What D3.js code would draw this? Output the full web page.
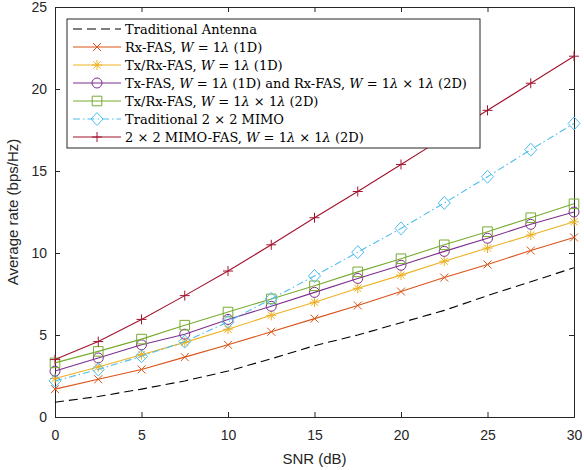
<!DOCTYPE html>
<html>
<head>
<meta charset="utf-8">
<script src="https://cdn.jsdelivr.net/npm/d3@7"></script>
<style>
  body { margin: 0; background: #fff; }
  svg { display: block; }
</style>
</head>
<body>
<svg id="chart" width="584" height="470"></svg>
<script>
// chart data
var snr = [0, 2.5, 5, 7.5, 10, 12.5, 15, 17.5, 20, 22.5, 25, 27.5, 30];

var tradAntenna = [0.9, 1.25, 1.7, 2.2, 2.8, 3.55, 4.35, 5.0, 5.75, 6.5, 7.4, 8.25, 9.1];
var rxFas1D = [1.7, 2.3, 2.9, 3.65, 4.4, 5.2, 6.0, 6.8, 7.65, 8.5, 9.3, 10.15, 10.95];
var txRxFas1D = [2.35, 3.05, 3.8, 4.55, 5.35, 6.2, 7.0, 7.85, 8.65, 9.5, 10.3, 11.1, 11.9];
var txFasRxFas2D = [2.8, 3.6, 4.4, 5.05, 5.95, 6.75, 7.6, 8.45, 9.25, 10.1, 10.9, 11.75, 12.5];
var txRxFas2D = [3.3, 4.0, 4.75, 5.6, 6.4, 7.2, 8.0, 8.85, 9.65, 10.5, 11.3, 12.15, 13.0];
var tradMimo = [2.2, 2.9, 3.7, 4.6, 5.8, 7.2, 8.6, 10.05, 11.5, 13.05, 14.65, 16.3, 17.9];
var mimoFas2D = [3.5, 4.6, 5.95, 7.4, 8.9, 10.5, 12.15, 13.75, 15.4, 17.05, 18.7, 20.35, 22.0];

// legend labels, *...* is set in italics (math)
var legendLabels = [
  "Traditional Antenna",
  "Rx-FAS, *W* = 1*λ* (1D)",
  "Tx/Rx-FAS, *W* = 1*λ* (1D)",
  "Tx-FAS, *W* = 1*λ* (1D) and Rx-FAS, *W* = 1*λ* × 1*λ* (2D)",
  "Tx/Rx-FAS, *W* = 1*λ* × 1*λ* (2D)",
  "Traditional 2 × 2 MIMO",
  "2 × 2 MIMO-FAS, *W* = 1*λ* × 1*λ* (2D)"
];

var xTicks = [0, 5, 10, 15, 20, 25, 30];
var yTicks = [0, 5, 10, 15, 20, 25];

window.onload = function() {

  var margin = {top: 7, right: 10, bottom: 53, left: 55},
    width = 584 - margin.left - margin.right,
    height = 470 - margin.top - margin.bottom;

  var x = d3.scaleLinear().domain([0, 30]).range([0, width]);
  var y = d3.scaleLinear().domain([0, 25]).range([height, 0]);

  var svg = d3.select("#chart")
    .append("g")
    .attr("transform", "translate(" + margin.left + "," + margin.top + ")");

  var axisColor = "#262626";
  var sansFont = "'Liberation Sans', Arial, Helvetica, sans-serif";
  var serifFont = "'DejaVu Serif', 'Liberation Serif', serif";

  // series styles (MATLAB default colour order)
  var series = [
    {values: tradAntenna, color: "#000000", dash: "9,5", marker: null},
    {values: rxFas1D, color: "#D95319", dash: null, marker: "cross"},
    {values: txRxFas1D, color: "#EDB120", dash: null, marker: "star"},
    {values: txFasRxFas2D, color: "#7E2F8E", dash: null, marker: "circle"},
    {values: txRxFas2D, color: "#77AC30", dash: null, marker: "square"},
    {values: tradMimo, color: "#4DBEEE", dash: "7,3,1.5,3", marker: "diamond"},
    {values: mimoFas2D, color: "#A2142F", dash: null, marker: "plus"}
  ];

  // marker shapes as path strings centred on 0,0
  function markerPath(type) {
    switch (type) {
      case "cross": return "M-4,-4L4,4M-4,4L4,-4";
      case "plus": return "M-5,0L5,0M0,-5L0,5";
      case "star": return "M-5,0L5,0M0,-5L0,5M-3.6,-3.6L3.6,3.6M-3.6,3.6L3.6,-3.6";
      case "circle": return "M5,0A5,5 0 1,1 -5,0A5,5 0 1,1 5,0Z";
      case "square": return "M-4.8,-4.8L4.8,-4.8L4.8,4.8L-4.8,4.8Z";
      case "diamond": return "M0,-6.5L6,0L0,6.5L-6,0Z";
    }
    return "";
  }

  // axes with inward ticks
  var xAxis = d3.axisBottom(x).tickValues(xTicks).tickSize(-5).tickPadding(13);
  var yAxis = d3.axisLeft(y).tickValues(yTicks).tickSize(-5).tickPadding(8);

  var gx = svg.append("g")
    .attr("transform", "translate(0," + height + ")")
    .call(xAxis);
  var gy = svg.append("g").call(yAxis);

  // mirrored ticks on top and right
  var gxTop = svg.append("g")
    .call(d3.axisTop(x).tickValues(xTicks).tickSize(-5).tickFormat(""));
  var gyRight = svg.append("g")
    .attr("transform", "translate(" + width + ",0)")
    .call(d3.axisRight(y).tickValues(yTicks).tickSize(-5).tickFormat(""));

  [gx, gy, gxTop, gyRight].forEach(function(g) {
    g.select(".domain").attr("stroke", axisColor).attr("stroke-width", 1);
    g.selectAll(".tick line").attr("stroke", axisColor).attr("stroke-width", 1);
    g.selectAll(".tick text")
      .attr("fill", axisColor)
      .style("font-family", sansFont)
      .style("font-size", "14px");
  });

  // axis labels
  svg.append("text")
    .attr("x", width / 2)
    .attr("y", height + 47)
    .attr("text-anchor", "middle")
    .attr("fill", axisColor)
    .style("font-family", sansFont)
    .style("font-size", "15px")
    .text("SNR (dB)");

  svg.append("text")
    .attr("transform", "rotate(-90)")
    .attr("x", -height / 2)
    .attr("y", -37)
    .attr("text-anchor", "middle")
    .attr("fill", axisColor)
    .style("font-family", sansFont)
    .style("font-size", "15px")
    .text("Average rate (bps/Hz)");

  // lines and markers
  var line = d3.line()
    .x(function(d, i) { return x(snr[i]); })
    .y(function(d) { return y(d); });

  series.forEach(function(s) {
    svg.append("path")
      .attr("d", line(s.values))
      .attr("fill", "none")
      .attr("stroke", s.color)
      .attr("stroke-width", 1.1)
      .attr("stroke-dasharray", s.dash);

    if (s.marker) {
      svg.append("g").selectAll("path")
        .data(s.values)
        .enter().append("path")
        .attr("transform", function(d, i) { return "translate(" + x(snr[i]) + "," + y(d) + ")"; })
        .attr("d", markerPath(s.marker))
        .attr("fill", "none")
        .attr("stroke", s.color)
        .attr("stroke-width", 1);
    }
  });

  // legend box
  var legend = svg.append("g")
    .attr("transform", "translate(12,12)");

  legend.append("rect")
    .attr("x", 0)
    .attr("y", 0)
    .attr("width", 413)
    .attr("height", 129)
    .attr("fill", "#fff")
    .attr("stroke", axisColor)
    .attr("stroke-width", 1);

  series.forEach(function(s, i) {
    var row = legend.append("g")
      .attr("transform", "translate(0," + (10 + i * 18) + ")");

    row.append("line")
      .attr("x1", 6)
      .attr("x2", 54)
      .attr("y1", 0)
      .attr("y2", 0)
      .attr("stroke", s.color)
      .attr("stroke-width", 1.1)
      .attr("stroke-dasharray", s.dash);

    if (s.marker) {
      row.append("path")
        .attr("transform", "translate(30,0)")
        .attr("d", markerPath(s.marker))
        .attr("fill", "none")
        .attr("stroke", s.color)
        .attr("stroke-width", 1);
    }

    var label = row.append("text")
      .attr("x", 58)
      .attr("y", 4.5)
      .attr("fill", "#000")
      .style("font-family", serifFont)
      .style("font-size", "13px");

    legendLabels[i].split("*").forEach(function(part, k) {
      label.append("tspan")
        .style("font-style", k % 2 ? "italic" : "normal")
        .text(part);
    });
  });
};
</script>
</body>
</html>
